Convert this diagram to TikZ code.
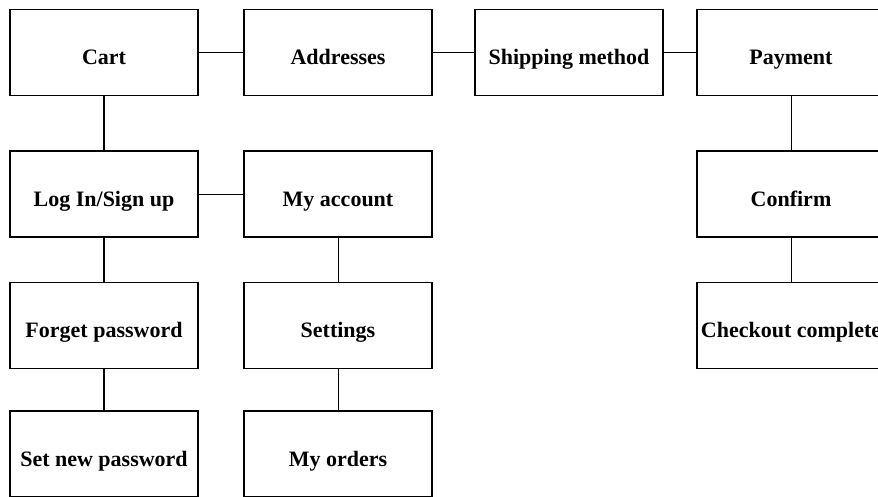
\documentclass[tikz,border=0pt]{standalone}
\usepackage{fontspec}
\setmainfont{Liberation Serif}
\begin{document}
\begin{tikzpicture}[x=1pt,y=-1pt,
  box/.style={draw=black,line width=1.6pt,rectangle,minimum width=188pt,minimum height=86pt,inner sep=0pt,outer sep=0pt},
  lbl/.style={font=\fontsize{22}{26}\selectfont\bfseries,inner sep=0pt,anchor=base},
  thickline/.style={line width=1.8pt},
  thinline/.style={line width=0.9pt}]
\useasboundingbox (0,0) rectangle (878,496);
\node[box] (cart) at (104,52.5) {};
\node[box] (addr) at (338,52.5) {};
\node[box] (ship) at (569,52.5) {};
\node[box] (pay) at (791,52.5) {};
\node[box] (login) at (104,194) {};
\node[box] (acct) at (338,194) {};
\node[box] (conf) at (791,194) {};
\node[box] (forget) at (104,325.5) {};
\node[box] (sett) at (338,325.5) {};
\node[box] (chk) at (791,325.5) {};
\node[box] (setnew) at (104,454) {};
\node[box] (orders) at (338,454) {};
\node[lbl] (tcart) at ([yshift=-12pt]cart.center) {Cart};
\node[lbl] (taddr) at ([yshift=-12pt]addr.center) {Addresses};
\node[lbl] (tship) at ([yshift=-12pt]ship.center) {Shipping method};
\node[lbl] (tpay) at ([yshift=-12pt]pay.center) {Payment};
\node[lbl] (tlogin) at ([yshift=-12pt]login.center) {Log In/Sign up};
\node[lbl] (tacct) at ([yshift=-12pt]acct.center) {My account};
\node[lbl] (tconf) at ([yshift=-12pt]conf.center) {Confirm};
\node[lbl] (tforget) at ([yshift=-12pt]forget.center) {Forget password};
\node[lbl] (tsett) at ([yshift=-12pt]sett.center) {Settings};
\node[lbl] (tchk) at ([yshift=-12pt]chk.center) {Checkout complete};
\node[lbl] (tsetnew) at ([yshift=-12pt]setnew.center) {Set new password};
\node[lbl] (torders) at ([yshift=-12pt]orders.center) {My orders};
\draw[thickline] (cart.east) -- (addr.west);
\draw[thickline] (addr.east) -- (ship.west);
\draw[thickline] (ship.east) -- (pay.west);
\draw[thickline] (cart.south) -- (login.north);
\draw[thickline] (login.south) -- (forget.north);
\draw[thickline] (forget.south) -- (setnew.north);
\draw[thinline] (login.east) -- (acct.west);
\draw[thinline] (acct.south) -- (sett.north);
\draw[thinline] (sett.south) -- (orders.north);
\draw[thinline] (pay.south) -- (conf.north);
\draw[thinline] (conf.south) -- (chk.north);
\end{tikzpicture}
\end{document}
